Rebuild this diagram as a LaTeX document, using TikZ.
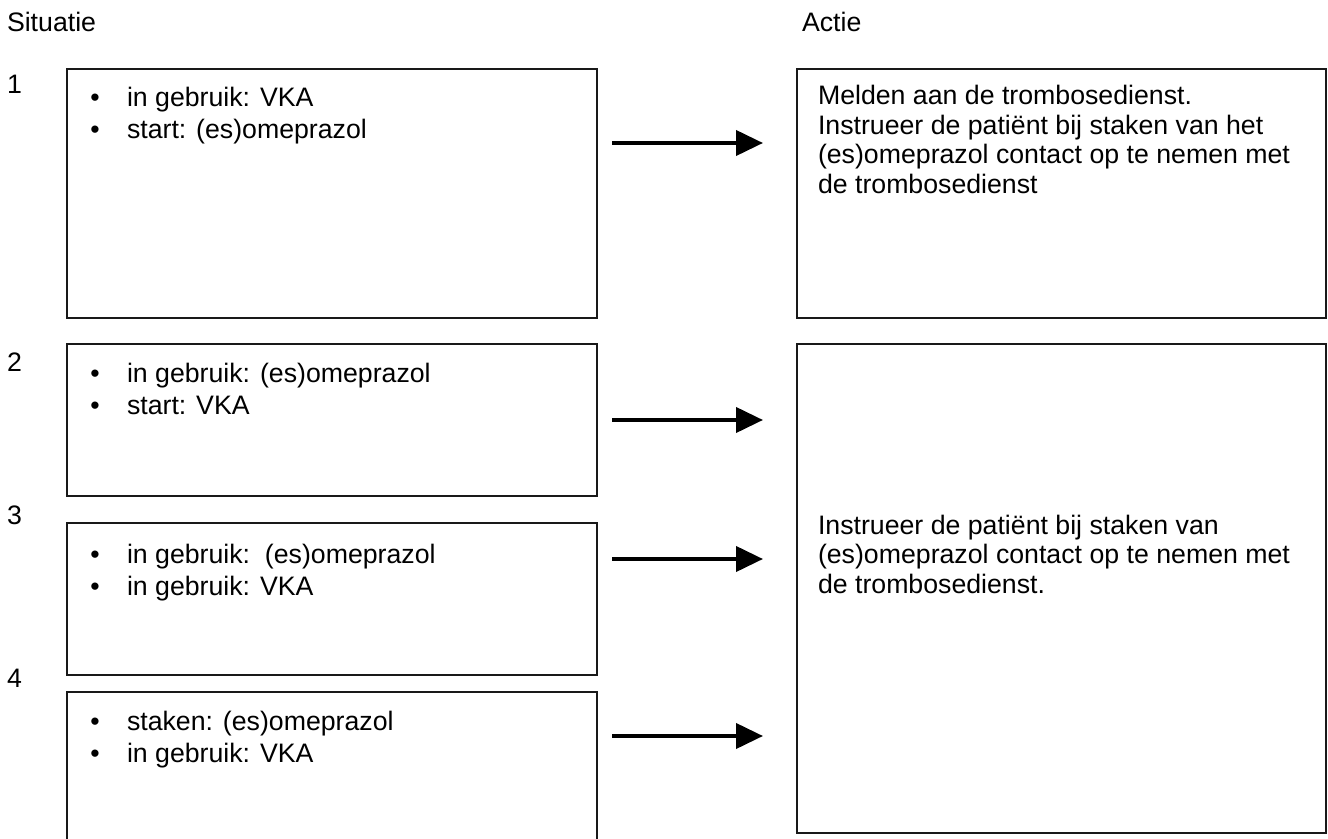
\documentclass[tikz,border=0pt]{standalone}
\usepackage{fontspec}
\setmainfont{Liberation Sans}
\usetikzlibrary{arrows.meta}
\begin{document}
\begin{tikzpicture}[x=0.5pt,y=-0.5pt,
  every node/.style={inner sep=0pt, outer sep=0pt, font=\fontsize{13.35}{16}\selectfont},
  box/.style={draw=black!90, line width=1pt, anchor=north west, minimum width=265pt},
  rbox/.style={draw=black!90, line width=1pt, anchor=north west, minimum width=264.5pt},
  txt/.style={anchor=base west},
  bul/.style={anchor=base},
  arr/.style={line width=2pt, -{Triangle[length=13.5pt,width=12.5pt]}}]
\useasboundingbox (0,0) rectangle (1328,839);

% headers
\node[txt] (hsit) at (7,32) {Situatie};
\node[txt] (hact) at (802,32) {Actie};

% row labels
\node[txt] (n1) at (7,94) {1};
\node[txt] (n2) at (7,372) {2};
\node[txt] (n3) at (7,524) {3};
\node[txt] (n4) at (7,687) {4};

% left boxes
\node[box, minimum height=124.5pt] (L1) at (67,69) {};
\node[box, minimum height=76pt] (L2) at (67,344) {};
\node[box, minimum height=76pt] (L3) at (67,523) {};
\begin{scope}
\clip (0,0) rectangle (1328,839);
\node[box, minimum height=90pt] (L4) at (67,692) {};
\end{scope}

% right boxes
\node[rbox, minimum height=124.5pt] (R1) at (797,69) {};
\node[rbox, minimum height=244.5pt] (R2) at (797,344) {};

% bullets and texts, box 1
\node[bul] (b11) at (95,107) {\textbullet};
\node[txt] (t11) at (127,107) {in gebruik: VKA};
\node[bul] (b12) at (95,139) {\textbullet};
\node[txt] (t12) at (127,139) {start: (es)omeprazol};
% box 2
\node[bul] (b21) at (95,383) {\textbullet};
\node[txt] (t21) at (127,383) {in gebruik: (es)omeprazol};
\node[bul] (b22) at (95,415) {\textbullet};
\node[txt] (t22) at (127,415) {start: VKA};
% box 3
\node[bul] (b31) at (95,563) {\textbullet};
\node[txt] (t31) at (127,563) {in gebruik:\ \ (es)omeprazol};
\node[bul] (b32) at (95,595) {\textbullet};
\node[txt] (t32) at (127,595) {in gebruik: VKA};
% box 4
\node[bul] (b41) at (95,730) {\textbullet};
\node[txt] (t41) at (127,730) {staken: (es)omeprazol};
\node[bul] (b42) at (95,762) {\textbullet};
\node[txt] (t42) at (127,762) {in gebruik: VKA};

% right box texts
\node[txt] (r11) at (818,105) {Melden aan de trombosedienst.};
\node[txt] (r12) at (818,134.5) {Instrueer de patiënt bij staken van het};
\node[txt] (r13) at (818,164) {(es)omeprazol contact op te nemen met};
\node[txt] (r14) at (818,193.5) {de trombosedienst};

\node[txt] (r21) at (818,534) {Instrueer de patiënt bij staken van};
\node[txt] (r22) at (818,563.5) {(es)omeprazol contact op te nemen met};
\node[txt] (r23) at (818,593) {de trombosedienst.};

% arrows
\coordinate (a1s) at (612,143); \coordinate (a1e) at (763,143);
\coordinate (a2s) at (612,420); \coordinate (a2e) at (763,420);
\coordinate (a3s) at (612,559); \coordinate (a3e) at (763,559);
\coordinate (a4s) at (612,736); \coordinate (a4e) at (763,736);
\draw[arr] (a1s) -- (a1e);
\draw[arr] (a2s) -- (a2e);
\draw[arr] (a3s) -- (a3e);
\draw[arr] (a4s) -- (a4e);
\end{tikzpicture}
\end{document}
